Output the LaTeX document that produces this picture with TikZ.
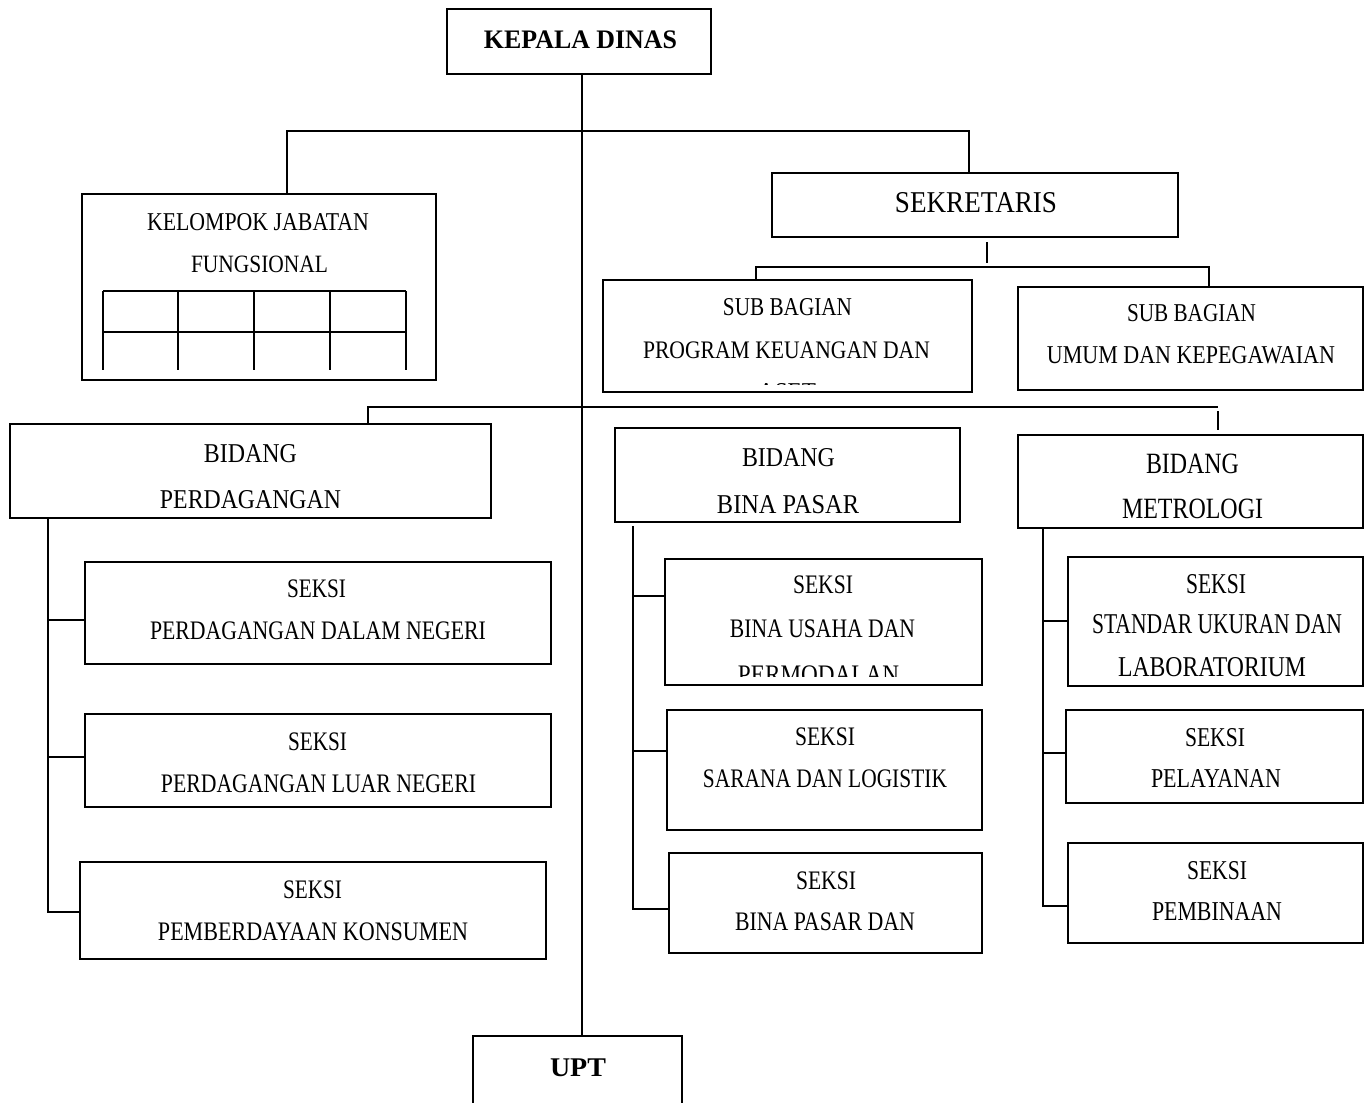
\documentclass[tikz,border=0pt]{standalone}
\usepackage{fontspec}
\usepackage{graphicx}
\setmainfont{Liberation Serif}
\tikzset{
  box/.style={draw, line width=2.6pt, rectangle, inner sep=0pt, outer sep=0pt},
  conn/.style={line width=2.5pt},
  tab/.style={line width=2.6pt},
  lbl/.style={anchor=base, inner sep=0pt, outer sep=0pt}
}
% box by corners: name, left, top, right, bottom
\newcommand\bx[5]{\node[box, minimum width={#4pt-#2pt}, minimum height={#5pt-#3pt}] (#1) at ({(#2+#4)/2},{(#3+#5)/2}) {};}
% text: name, centre x, baseline y, width, cap height, text
\newcommand\tx[6]{\node[lbl] (#1) at (#2,#3) {\resizebox{#4pt}{#5pt}{#6}};}
\begin{document}
\begin{tikzpicture}[x=1pt,y=-1pt]
\useasboundingbox (0,0) rectangle (1371,1103);

% ---------- boxes ----------
\bx{kd}{447}{9}{711}{74}
\bx{kjf}{82}{194}{436}{380}
\bx{sek}{772}{173}{1178}{237}
\bx{sbl}{603}{280}{972}{392}
\bx{sbr}{1018}{287}{1363}{390}
\bx{bp}{10}{424}{491}{518}
\bx{bb}{615}{428}{960}{522}
\bx{bm}{1018}{435}{1363}{528}
\bx{s11}{85}{562}{551}{664}
\bx{s12}{85}{714}{551}{807}
\bx{s13}{80}{862}{546}{959}
\bx{s21}{665}{559}{982}{685}
\bx{s22}{667}{710}{982}{830}
\bx{s23}{669}{853}{982}{953}
\bx{s31}{1068}{557}{1363}{686}
\bx{s32}{1066}{710}{1363}{803}
\bx{s33}{1068}{843}{1363}{943}
\bx{upt}{473}{1036}{682}{1130}

% ---------- table inside KJF ----------
\draw[tab] (103,291) -- (406,291);
\draw[tab] (103,332) -- (406,332);
\foreach \xx in {103,178,254,330,406} \draw[tab] (\xx,291) -- (\xx,370);

% ---------- connectors ----------
\coordinate (j1) at (287,131);
\coordinate (j2) at (969,131);
\draw[conn] (kd.south -| 582,0) -- (upt.north -| 582,0);
\draw[conn] (kjf.north -| j1) -- (j1) -- (j2) -- (sek.north -| j2);

\coordinate (sa) at (987,242);
\coordinate (sb) at (987,263);
\draw[conn] (sa) -- (sb);
\coordinate (k1) at (756,267);
\coordinate (k2) at (1209,267);
\draw[conn] (sbl.north -| k1) -- (k1) -- (k2) -- (sbr.north -| k2);

\coordinate (b1) at (368,407);
\coordinate (b2) at (1218,407);
\coordinate (b3) at (1218,411);
\coordinate (b4) at (1218,430);
\draw[conn] (bp.north -| b1) -- (b1) -- (b2);
\draw[conn] (b3) -- (b4);

% perdagangan tree
\coordinate (p0) at (48,518);
\coordinate (p1) at (48,620);
\coordinate (p2) at (48,757);
\coordinate (p3) at (48,912);
\draw[conn] (p0) -- (p3) -- (s13.west |- p3);
\draw[conn] (p1) -- (s11.west |- p1);
\draw[conn] (p2) -- (s12.west |- p2);

% bina pasar tree
\coordinate (q0) at (633,526);
\coordinate (q1) at (633,596);
\coordinate (q2) at (633,751);
\coordinate (q3) at (633,909);
\draw[conn] (q0) -- (q3) -- (s23.west |- q3);
\draw[conn] (q1) -- (s21.west |- q1);
\draw[conn] (q2) -- (s22.west |- q2);

% metrologi tree
\coordinate (r0) at (1043,528);
\coordinate (r1) at (1043,621);
\coordinate (r2) at (1043,753);
\coordinate (r3) at (1043,906);
\draw[conn] (r0) -- (r3) -- (s33.west |- r3);
\draw[conn] (r1) -- (s31.west |- r1);
\draw[conn] (r2) -- (s32.west |- r2);

% ---------- texts ----------
\tx{t01}{580.5}{48}{193}{17.7}{\bfseries KEPALA DINAS}
\tx{t02}{258}{230}{222}{17}{KELOMPOK JABATAN}
\tx{t03}{259.5}{272}{137}{16.5}{FUNGSIONAL}
\tx{t04}{976}{212}{162}{20}{SEKRETARIS}
\tx{t05}{787.5}{315}{129}{17}{SUB BAGIAN}
\tx{t06}{786.5}{358}{287}{16.7}{PROGRAM KEUANGAN DAN}
\begin{scope}
\clip (603,280) rectangle (972,384);
\tx{t07}{787}{400}{58}{17}{ASET}
\end{scope}
\tx{t08}{1191.5}{321}{129}{17}{SUB BAGIAN}
\tx{t09}{1191}{363}{288}{17}{UMUM DAN KEPEGAWAIAN}
\tx{t10}{250.5}{462}{93}{18}{BIDANG}
\tx{t11}{250.5}{508}{181}{18}{PERDAGANGAN}
\tx{t12}{788.5}{466}{93}{18}{BIDANG}
\tx{t13}{788}{513}{142}{18}{BINA PASAR}
\tx{t14}{1192.5}{473}{93}{19.5}{BIDANG}
\tx{t15}{1192.5}{518}{141}{19.5}{METROLOGI}
\tx{t16}{316.5}{597}{59}{17.7}{SEKSI}
\tx{t17}{318}{639}{336}{17.7}{PERDAGANGAN DALAM NEGERI}
\tx{t18}{317.5}{750}{59}{17.7}{SEKSI}
\tx{t19}{318.5}{792}{315}{17.7}{PERDAGANGAN LUAR NEGERI}
\tx{t20}{312.5}{898}{59}{17.7}{SEKSI}
\tx{t21}{313}{940}{310}{17.7}{PEMBERDAYAAN KONSUMEN}
\tx{t22}{823}{593}{60}{17.7}{SEKSI}
\tx{t23}{822.5}{637}{185}{17.7}{BINA USAHA DAN}
\begin{scope}
\clip (665,559) rectangle (982,676);
\tx{t24}{818.5}{683}{161}{17.7}{PERMODALAN}
\end{scope}
\tx{t25}{825}{745}{60}{17.7}{SEKSI}
\tx{t26}{825}{787}{244}{17.7}{SARANA DAN LOGISTIK}
\tx{t27}{826}{889}{60}{17.7}{SEKSI}
\tx{t28}{825}{930}{180}{17.7}{BINA PASAR DAN}
\tx{t29}{1216}{593}{60}{19}{SEKSI}
\tx{t30}{1217}{633}{250}{19}{STANDAR UKURAN DAN}
\tx{t31}{1212}{676}{188}{19}{LABORATORIUM}
\tx{t32}{1215}{746}{60}{18}{SEKSI}
\tx{t33}{1216}{787}{130}{18}{PELAYANAN}
\tx{t34}{1217}{879}{60}{18}{SEKSI}
\tx{t35}{1217}{920}{130}{18}{PEMBINAAN}
\tx{t36}{578}{1076}{56}{17.7}{\bfseries UPT}
\end{tikzpicture}
\end{document}
